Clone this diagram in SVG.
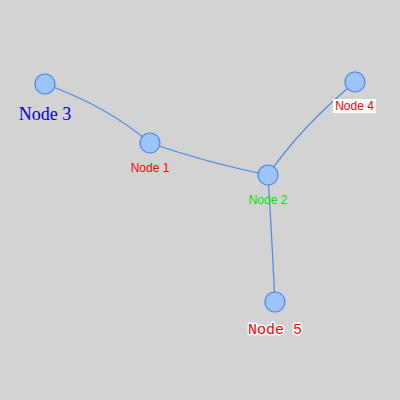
<svg xmlns="http://www.w3.org/2000/svg" width="400" height="400" viewBox="0 0 400 400">
  <style>
    .edge { fill: none; stroke: #4a88e4; stroke-width: 1.2; }
    .node circle { fill: #9cc3fa; stroke: #4a88e4; stroke-width: 1.2; }
    .sans { font-family: "Liberation Sans", Arial, sans-serif; font-size: 12px; text-anchor: middle; }
  </style>
  <rect width="400" height="400" fill="#d3d3d3"/>
  <g id="edges">
    <path class="edge" d="M45,84 Q107,106 150,143"/>
    <path class="edge" d="M150,143 Q208,163 268,175"/>
    <path class="edge" d="M268,175 Q300,128 355,82"/>
    <path class="edge" d="M268,175 Q272,240 275,302"/>
  </g>
  <g id="node1" class="node">
    <circle cx="150" cy="143" r="10"/>
    <text class="sans" x="150" y="172" fill="#ff0000">Node 1</text>
  </g>
  <g id="node2" class="node">
    <circle cx="268" cy="175" r="10"/>
    <text class="sans" x="268" y="204" fill="#00e000">Node 2</text>
  </g>
  <g id="node3" class="node">
    <circle cx="45" cy="84" r="10"/>
    <text x="45" y="120" fill="#0000dd" font-family="'Liberation Serif', 'Times New Roman', serif" font-size="18" text-anchor="middle">Node 3</text>
  </g>
  <g id="node4" class="node">
    <circle cx="355" cy="82" r="10"/>
    <rect x="333" y="99" width="43" height="14" fill="#ffffff"/>
    <text class="sans" x="354.5" y="110" fill="#ff0000">Node 4</text>
  </g>
  <g id="node5" class="node">
    <circle cx="275" cy="302" r="10"/>
    <text x="275" y="334" fill="#ff0000" stroke="#ffffff" stroke-width="3" paint-order="stroke" stroke-linejoin="round" font-family="'Liberation Mono', 'Courier New', monospace" font-size="15" text-anchor="middle">Node 5</text>
  </g>
</svg>
